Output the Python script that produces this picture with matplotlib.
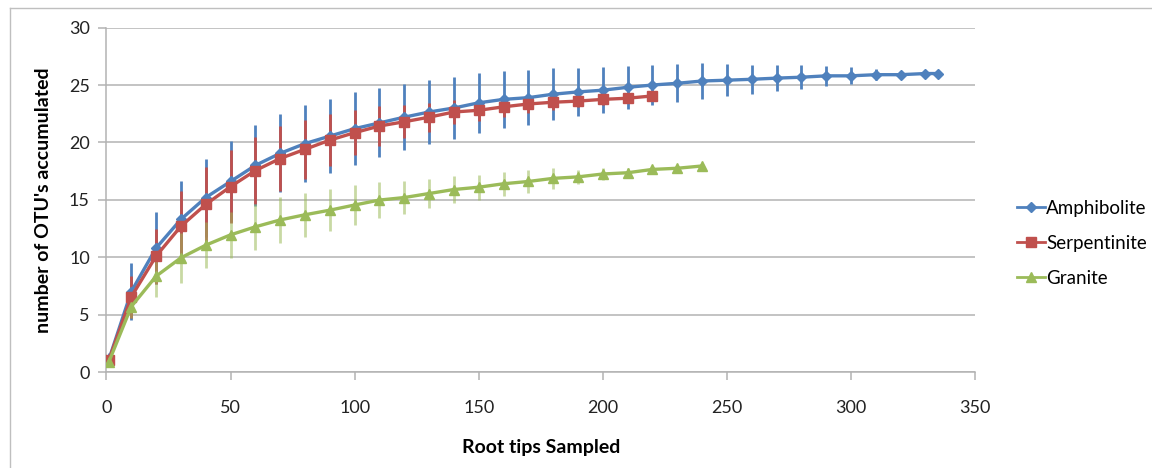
import matplotlib
matplotlib.use("Agg")
import matplotlib.pyplot as plt
from matplotlib.lines import Line2D

plt.rcParams['font.family'] = ['Lato', 'DejaVu Sans']

# root tips sampled
x_amph = [1, 10, 20, 30, 40, 50, 60, 70, 80, 90, 100, 110, 120, 130, 140, 150, 160, 170,
          180, 190, 200, 210, 220, 230, 240, 250, 260, 270, 280, 290, 300, 310, 320, 330, 335]
x_serp = [1, 10, 20, 30, 40, 50, 60, 70, 80, 90, 100, 110, 120, 130, 140, 150, 160, 170,
          180, 190, 200, 210, 220]
x_gran = [1, 10, 20, 30, 40, 50, 60, 70, 80, 90, 100, 110, 120, 130, 140, 150, 160, 170,
          180, 190, 200, 210, 220, 230, 240]

# OTU's accumulated
amph = [1.1, 7.0, 10.8, 13.3, 15.2, 16.6, 18.0, 19.05, 19.9, 20.55, 21.2, 21.7, 22.2, 22.65,
        23.0, 23.45, 23.75, 23.9, 24.2, 24.4, 24.55, 24.8, 25.0, 25.15, 25.35, 25.42, 25.5,
        25.6, 25.68, 25.8, 25.8, 25.9, 25.9, 26.0, 26.0]
serp = [1.05, 6.55, 10.1, 12.7, 14.6, 16.15, 17.55, 18.6, 19.4, 20.2, 20.85, 21.43, 21.8,
        22.2, 22.65, 22.8, 23.1, 23.35, 23.5, 23.6, 23.75, 23.85, 24.05]
gran = [0.9, 5.7, 8.35, 9.95, 11.05, 11.95, 12.65, 13.25, 13.7, 14.1, 14.55, 14.98, 15.2,
        15.55, 15.9, 16.1, 16.4, 16.6, 16.87, 17.0, 17.25, 17.36, 17.65, 17.75, 17.95]

# error bars (+/-)
amph_err = [0.6, 2.5, 3.1, 3.3, 3.4, 3.5, 3.5, 3.4, 3.35, 3.25, 3.15, 3.0, 2.87, 2.77, 2.69,
            2.6, 2.5, 2.38, 2.25, 2.12, 2.0, 1.89, 1.76, 1.67, 1.54, 1.4, 1.27, 1.16, 1.06,
            0.85, 0.75, 0.5, 0.3, 0.0, 0.0]
serp_err = [0.4, 1.8, 2.4, 3.1, 3.3, 3.2, 2.9, 2.85, 2.55, 2.25, 1.95, 1.7, 1.45, 1.25, 1.05,
            0.95, 0.85, 0.75, 0.65, 0.55, 0.45, 0.35, 0.2]
gran_err = [0.3, 1.0, 1.8, 2.2, 2.0, 2.0, 2.0, 2.0, 1.9, 1.85, 1.7, 1.55, 1.45, 1.3, 1.15,
            1.1, 1.05, 1.0, 0.9, 0.6, 0.55, 0.4, 0.2, 0.1, 0.0]

blue = '#4f81bd'
red = '#c0504d'
green = '#9bbb59'

fig = plt.figure(figsize=(11.52, 4.68), dpi=100)
ax = fig.add_axes([0.0924, 0.205, 0.754, 0.736])

ax.errorbar(x_amph, amph, yerr=amph_err, fmt='none', ecolor=blue, elinewidth=2.0, capsize=0, zorder=2)
ax.errorbar(x_serp, serp, yerr=serp_err, fmt='none', ecolor=red, elinewidth=2.0, capsize=0, zorder=3)
ax.errorbar(x_gran, gran, yerr=gran_err, fmt='none', ecolor=green, elinewidth=2.0, capsize=0,
            alpha=0.55, zorder=4)

ax.plot(x_amph, amph, color=blue, lw=2.4, marker='D', ms=5.5, zorder=5, label='Amphibolite')
ax.plot(x_serp, serp, color=red, lw=2.4, marker='s', ms=7, zorder=6, label='Serpentinite')
ax.plot(x_gran, gran, color=green, lw=2.4, marker='^', ms=7, zorder=7, label='Granite')

ax.set_xlim(0, 350)
ax.set_ylim(0, 30)
ax.set_xticks(range(0, 351, 50))
ax.set_yticks(range(0, 31, 5))
ax.yaxis.grid(True, color='#b3b3b3', lw=1.1)
ax.set_axisbelow(True)
for s in ['top', 'right']:
    ax.spines[s].set_visible(False)
for s in ['left', 'bottom']:
    ax.spines[s].set_color('#b3b3b3')
    ax.spines[s].set_linewidth(1.1)
ax.tick_params(axis='both', colors='#b3b3b3', length=6, width=1.1, labelsize=13,
               labelcolor='#222222')
ax.tick_params(axis='x', pad=14)
ax.tick_params(axis='y', pad=6)

ax.set_xlabel('Root tips Sampled', fontsize=14, fontweight='bold', labelpad=17)
ax.set_ylabel("number of OTU's accumulated", fontsize=14, fontweight='bold', labelpad=12)

handles = [Line2D([], [], color=blue, lw=2, marker='D', ms=5),
           Line2D([], [], color=red, lw=2, marker='s', ms=6.5),
           Line2D([], [], color=green, lw=2, marker='^', ms=6.5)]
fig.legend(handles, ['Amphibolite', 'Serpentinite', 'Granite'], loc='center left',
           bbox_to_anchor=(0.868, 0.48), frameon=False, fontsize=13.5, handlelength=1.5,
           handletextpad=0.05, labelspacing=0.95)

# chart frame (left and top edges visible)
fig.add_artist(Line2D([10 / 1152, 10 / 1152], [0, 1 - 8 / 468], transform=fig.transFigure,
                      color='#bfbfbf', lw=1))
fig.add_artist(Line2D([10 / 1152, 1], [1 - 8 / 468, 1 - 8 / 468], transform=fig.transFigure,
                      color='#bfbfbf', lw=1))

fig.savefig('out.png', dpi=100)
